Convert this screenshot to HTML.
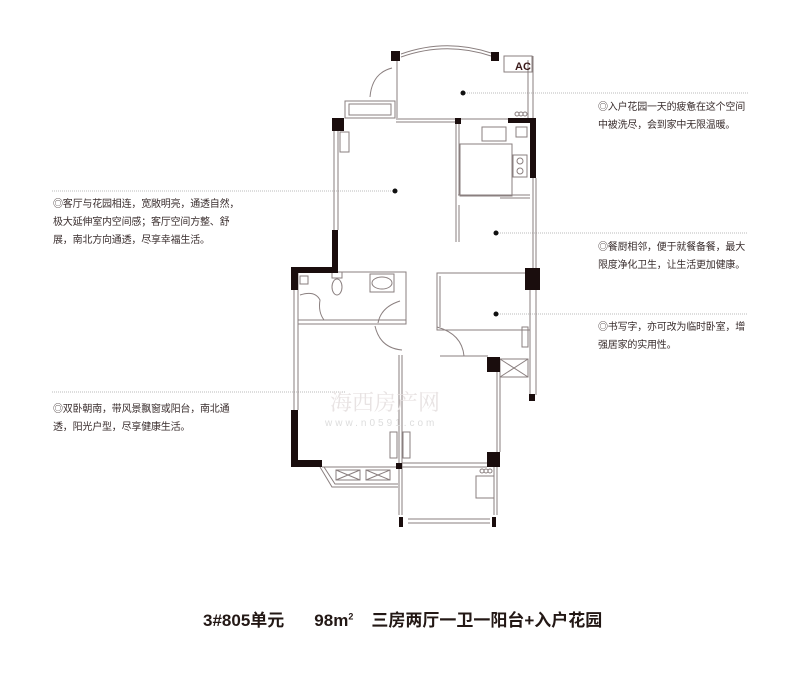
<!DOCTYPE html>
<html><head><meta charset="utf-8"><style>
body{margin:0;background:#fff;width:800px;height:687px;overflow:hidden;position:relative;font-family:"Liberation Sans","Noto Sans CJK SC",sans-serif;color:#3a2a2a}
.t{position:absolute;font-size:10px;line-height:18px;letter-spacing:-0.2px;white-space:nowrap;color:#3a2e2e}
.title{position:absolute;left:203px;top:606px;font-size:17px;font-weight:bold;color:#231815;white-space:nowrap;letter-spacing:0}
</style></head><body>
<svg width="800" height="687" style="position:absolute;left:0;top:0" xmlns="http://www.w3.org/2000/svg">
<g stroke="#bbb" stroke-width="1" stroke-dasharray="1,1" fill="none">
<line x1="463" y1="93" x2="748" y2="93"/>
<line x1="52" y1="191" x2="395" y2="191"/>
<line x1="496" y1="233" x2="748" y2="233"/>
<line x1="496" y1="314" x2="748" y2="314"/>
<line x1="52" y1="392" x2="345" y2="392"/>
</g>
<g fill="#111"><circle cx="463" cy="93" r="2.5"/><circle cx="395" cy="191" r="2.5"/><circle cx="496" cy="233" r="2.5"/><circle cx="496" cy="314" r="2.5"/></g>
<g stroke="#8a7f7f" stroke-width="1" fill="none">
<!-- top arc -->
<path d="M401 54 Q446 38 491 53"/><path d="M401 57 Q446 41 491 56"/>
<rect x="345" y="101" width="50" height="17"/><rect x="349" y="104" width="42" height="11"/>
<path d="M370 97 Q372 73 392 68"/><line x1="397" y1="60" x2="397" y2="118"/>
<line x1="396" y1="119" x2="533" y2="119"/><line x1="396" y1="122" x2="455" y2="122"/>
<rect x="504" y="56" width="28" height="16"/>
<line x1="528" y1="60" x2="528" y2="118"/><line x1="533" y1="56" x2="533" y2="118"/>
<!-- living left -->
<line x1="334" y1="131" x2="334" y2="230"/><line x1="338" y1="131" x2="338" y2="230"/>
<rect x="340" y="132" width="9" height="20"/>
<!-- kitchen -->
<line x1="456" y1="121" x2="456" y2="205"/><line x1="459" y1="121" x2="459" y2="195"/>
<rect x="460" y="144" width="52" height="52"/>
<line x1="458" y1="195" x2="530" y2="195"/><line x1="500" y1="198" x2="530" y2="198"/>
<rect x="482" y="127" width="24" height="14"/><rect x="516" y="127" width="11" height="10"/>
<rect x="513" y="155" width="14" height="22"/><circle cx="520" cy="161" r="3"/><circle cx="520" cy="171" r="3"/>
<line x1="456" y1="205" x2="456" y2="242"/><line x1="459" y1="205" x2="459" y2="242"/>
<line x1="533" y1="178" x2="533" y2="268"/><line x1="536" y1="178" x2="536" y2="268"/>
<!-- bathroom -->
<rect x="298" y="272" width="108" height="52"/><line x1="298" y1="320" x2="406" y2="320"/>
<rect x="300" y="276" width="8" height="8"/><path d="M300 295 Q315 290 320 300 Q318 312 324 320"/>
<ellipse cx="337" cy="287" rx="5" ry="8"/><rect x="332" y="272" width="10" height="6"/>
<ellipse cx="382" cy="283" rx="10" ry="6"/><rect x="370" y="274" width="24" height="18"/>
<path d="M378 323 Q381 307 400 301"/><path d="M375 326 Q380 348 402 350"/>
<!-- bedroom -->
<line x1="294" y1="290" x2="294" y2="410"/><line x1="298" y1="290" x2="298" y2="410"/>
<line x1="399" y1="355" x2="399" y2="467"/><line x1="402" y1="355" x2="402" y2="467"/>
<rect x="390" y="432" width="7" height="26"/><rect x="403" y="432" width="7" height="26"/>
<path d="M320 467 L332 487 L398 487"/><path d="M324 467 L335 484 L398 484"/>
<rect x="336" y="470" width="24" height="10"/><path d="M336 470 L360 480 M360 470 L336 480"/>
<rect x="366" y="470" width="24" height="10"/><path d="M366 470 L390 480 M390 470 L366 480"/>
<line x1="322" y1="467" x2="487" y2="467"/><line x1="402" y1="463" x2="487" y2="463"/>
<!-- study -->
<rect x="437" y="273" width="93" height="57"/><line x1="440" y1="276" x2="440" y2="327"/>
<path d="M437 327 Q462 334 464 356"/><line x1="440" y1="356" x2="488" y2="356"/>
<rect x="522" y="327" width="6" height="20"/>
<line x1="530" y1="290" x2="530" y2="395"/><line x1="536" y1="290" x2="536" y2="395"/>
<rect x="500" y="359" width="28" height="18"/><path d="M500 359 L528 377 M528 359 L500 377"/>
<line x1="497" y1="372" x2="497" y2="452"/><line x1="500" y1="372" x2="500" y2="452"/>
<!-- balcony -->
<line x1="399" y1="467" x2="399" y2="515"/><line x1="402" y1="467" x2="402" y2="515"/>
<line x1="494" y1="467" x2="494" y2="515"/><line x1="497" y1="467" x2="497" y2="515"/>
<line x1="408" y1="519" x2="490" y2="519"/><line x1="408" y1="523" x2="490" y2="523"/>
<rect x="476" y="476" width="18" height="22"/>
<circle cx="482" cy="471" r="2"/><circle cx="486" cy="471" r="2"/><circle cx="490" cy="471" r="2"/>
<circle cx="517" cy="114" r="2"/><circle cx="521" cy="114" r="2"/><circle cx="525" cy="114" r="2"/>
</g>
<g fill="#1a0d0d">
<rect x="391" y="51" width="9" height="10"/><rect x="491" y="52" width="8" height="9"/>
<rect x="332" y="118" width="12" height="13"/><rect x="455" y="118" width="6" height="6"/>
<rect x="508" y="118" width="28" height="5"/><rect x="530" y="118" width="6" height="60"/>
<rect x="332" y="230" width="6" height="42"/><rect x="291" y="267" width="47" height="6"/><rect x="291" y="267" width="7" height="23"/>
<rect x="525" y="268" width="15" height="22"/><rect x="291" y="410" width="7" height="57"/><rect x="291" y="460" width="31" height="7"/>
<rect x="487" y="357" width="13" height="15"/><rect x="487" y="452" width="13" height="15"/><rect x="396" y="463" width="6" height="6"/>
<rect x="399" y="517" width="4" height="10"/><rect x="492" y="517" width="4" height="10"/><rect x="529" y="394" width="6" height="7"/>
</g>
<text x="515" y="70" font-family="Liberation Sans" font-size="11" font-weight="bold" fill="#3a1a1a">AC</text>
<text x="330" y="410" font-family="Liberation Serif,Noto Serif CJK SC,serif" font-size="22" fill="#e8e3e3">海西房产网</text>
<text x="325" y="426" font-family="Liberation Sans" font-size="10" fill="#ddd" letter-spacing="3">www.n0591.com</text>
</svg>
<div class="t" style="left:598px;top:99px">◎入户花园一天的疲惫在这个空间<br>中被洗尽，会到家中无限温暖。</div>
<div class="t" style="left:53px;top:196px">◎客厅与花园相连，宽敞明亮，通透自然，<br>极大延伸室内空间感；客厅空间方整、舒<br>展，南北方向通透，尽享幸福生活。</div>
<div class="t" style="left:598px;top:239px">◎餐厨相邻，便于就餐备餐，最大<br>限度净化卫生，让生活更加健康。</div>
<div class="t" style="left:598px;top:319px">◎书写字，亦可改为临时卧室，增<br>强居家的实用性。</div>
<div class="t" style="left:53px;top:401px">◎双卧朝南，带风景飘窗或阳台，南北通<br>透，阳光户型，尽享健康生活。</div>
<div class="title">3#805单元<span style="display:inline-block;width:30px"></span>98m<sup style="font-size:9px">2</sup><span style="display:inline-block;width:18px"></span>三房两厅一卫一阳台+入户花园</div>
</body></html>
